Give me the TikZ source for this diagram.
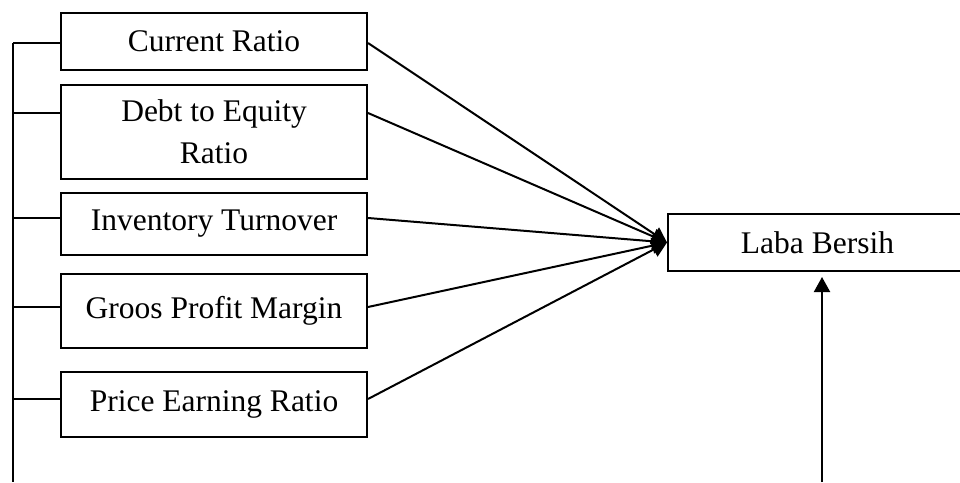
\documentclass[tikz,border=0pt]{standalone}
\usepackage{fontspec}
\setmainfont{Liberation Serif}
\usetikzlibrary{arrows.meta}
\begin{document}
\begin{tikzpicture}[x=1pt,y=-1pt,
line width=2pt,
font=\fontsize{31.5}{42}\selectfont,
b/.style={
draw,
anchor=north west,
minimum width=306pt,
align=center,
inner sep=0pt},
arr/.style={-{Triangle[length=15pt,width=16pt]}},
]
\useasboundingbox(0,0)rectangle(960,482);
%Variables
\node[b,minimum height=57pt](cr)at(60,12){Current Ratio};
\node[b,minimum height=94pt](der)at(60,84){Debt to Equity\\Ratio};
\node[b,minimum height=62pt](it)at(60,192){Inventory Turnover};
\node[b,minimum height=74pt](gpm)at(60,273){Groos Profit Margin};
\node[b,minimum height=65pt](per)at(60,371){Price Earning Ratio};
%%Laba Bersih
\node[b,minimum width=299pt,minimum height=57pt](lb)at(667,213){Laba Bersih};
%%Left bracket
\coordinate(t1)at(13,43);
\coordinate(t2)at(13,113);
\coordinate(t3)at(13,218);
\coordinate(t4)at(13,307);
\coordinate(t5)at(13,399);
\coordinate(tb)at(13,482);
\draw(t1)--(tb);
\draw(t1)--(t1-|cr.west);
\draw(t2)--(t2-|der.west);
\draw(t3)--(t3-|it.west);
\draw(t4)--(t4-|gpm.west);
\draw(t5)--(t5-|per.west);
%% Arrows
\draw[arr](t1-|cr.east)--(lb.west);
\draw[arr](t2-|der.east)--(lb.west);
\draw[arr](t3-|it.east)--(lb.west);
\draw[arr](t4-|gpm.east)--(lb.west);
\draw[arr](t5-|per.east)--(lb.west);
\coordinate(src)at(822,482);
\draw[arr,shorten >=5pt](src)--(src|-lb.south);
\end{tikzpicture}
\end{document}
